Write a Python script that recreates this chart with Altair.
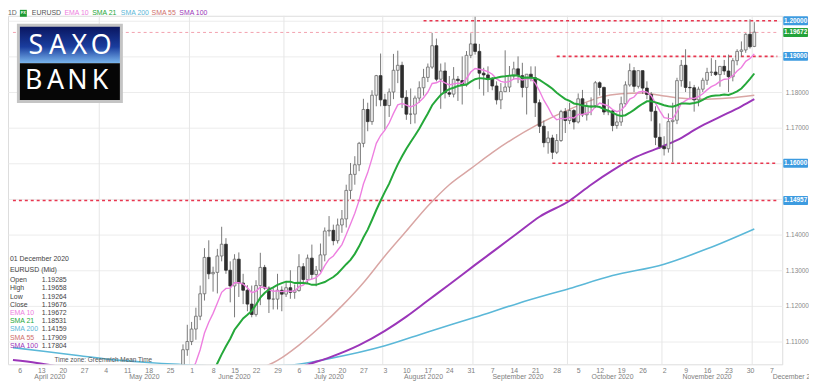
import altair as alt
import pandas as pd

W, H = 782, 352

# ---------------- data ----------------
DATES = [d.strftime("%Y-%m-%d") for d in pd.bdate_range("2020-05-26", "2020-12-01")]

OPEN = [1.0898, 1.0980, 1.1006, 1.1077,
        1.1100, 1.1135, 1.1171, 1.1234, 1.1336,
        1.1290, 1.1294, 1.1340, 1.1373, 1.1300,
        1.1256, 1.1331, 1.1264, 1.1244, 1.1205,
        1.1176, 1.1257, 1.1308, 1.1250, 1.1219,
        1.1219, 1.1244, 1.1233, 1.1251, 1.1238,
        1.1243, 1.1310, 1.1274, 1.1334, 1.1288,
        1.1300, 1.1343, 1.1410, 1.1412, 1.1383,
        1.1427, 1.1444, 1.1524, 1.1569, 1.1596,
        1.1656, 1.1751, 1.1717, 1.1791, 1.1846,
        1.1778, 1.1762, 1.1800, 1.1861, 1.1875,
        1.1785, 1.1738, 1.1738, 1.1783, 1.1812,
        1.1841, 1.1870, 1.1930, 1.1836, 1.1859,
        1.1798, 1.1794, 1.1836, 1.1832, 1.1820,
        1.1903, 1.1935, 1.1914, 1.1853, 1.1848,
        1.1837, 1.1817, 1.1778, 1.1801, 1.1814,
        1.1845, 1.1865, 1.1846, 1.1813, 1.1850,
        1.1840, 1.1770, 1.1704, 1.1658, 1.1671,
        1.1631, 1.1664, 1.1745, 1.1720, 1.1748,
        1.1716, 1.1781, 1.1736, 1.1760, 1.1761,
        1.1826, 1.1813, 1.1744, 1.1747, 1.1706,
        1.1716, 1.1767, 1.1820, 1.1860, 1.1816,
        1.1860, 1.1811, 1.1793, 1.1746, 1.1673,
        1.1647, 1.1641, 1.1717, 1.1721, 1.1832,
        1.1875, 1.1813, 1.1812, 1.1778, 1.1808,
        1.1833, 1.1855, 1.1856, 1.1849, 1.1872,
        1.1859, 1.1843, 1.1888, 1.1914, 1.1918,
        1.1962, 1.1928]
HIGH = [1.0996, 1.1030, 1.1092, 1.1147,
        1.1155, 1.1195, 1.1257, 1.1362, 1.1384,
        1.1310, 1.1360, 1.1422, 1.1390, 1.1325,
        1.1345, 1.1350, 1.1290, 1.1258, 1.1257,
        1.1272, 1.1349, 1.1315, 1.1255, 1.1250,
        1.1290, 1.1255, 1.1270, 1.1300, 1.1260,
        1.1345, 1.1320, 1.1344, 1.1372, 1.1312,
        1.1375, 1.1420, 1.1452, 1.1428, 1.1445,
        1.1469, 1.1540, 1.1601, 1.1620, 1.1660,
        1.1781, 1.1770, 1.1805, 1.1848, 1.1908,
        1.1795, 1.1810, 1.1907, 1.1916, 1.1885,
        1.1805, 1.1810, 1.1790, 1.1830, 1.1865,
        1.1880, 1.1966, 1.1950, 1.1880, 1.1883,
        1.1845, 1.1870, 1.1845, 1.1900, 1.1915,
        1.1965, 1.2011, 1.1935, 1.1868, 1.1872,
        1.1842, 1.1830, 1.1825, 1.1917, 1.1873,
        1.1885, 1.1900, 1.1882, 1.1850, 1.1872,
        1.1872, 1.1779, 1.1720, 1.1690, 1.1680,
        1.1682, 1.1750, 1.1755, 1.1770, 1.1752,
        1.1796, 1.1806, 1.1770, 1.1785, 1.1831,
        1.1830, 1.1815, 1.1780, 1.1750, 1.1740,
        1.1787, 1.1830, 1.1880, 1.1870, 1.1860,
        1.1860, 1.1830, 1.1800, 1.1760, 1.1712,
        1.1676, 1.1740, 1.1770, 1.1840, 1.1890,
        1.1920, 1.1830, 1.1820, 1.1815, 1.1840,
        1.1868, 1.1895, 1.1890, 1.1873, 1.1890,
        1.1905, 1.1895, 1.1920, 1.1942, 1.1965,
        1.2004, 1.1996]
LOW = [1.0893, 1.0940, 1.0985, 1.1060,
       1.1090, 1.1105, 1.1160, 1.1215, 1.1275,
       1.1240, 1.1235, 1.1325, 1.1290, 1.1210,
       1.1168, 1.1225, 1.1205, 1.1185, 1.1168,
       1.1170, 1.1202, 1.1245, 1.1180, 1.1190,
       1.1190, 1.1185, 1.1225, 1.1220, 1.1220,
       1.1240, 1.1260, 1.1262, 1.1275, 1.1255,
       1.1295, 1.1325, 1.1395, 1.1370, 1.1375,
       1.1405, 1.1420, 1.1500, 1.1540, 1.1578,
       1.1645, 1.1690, 1.1708, 1.1760, 1.1760,
       1.1695, 1.1730, 1.1780, 1.1825, 1.1755,
       1.1722, 1.1710, 1.1712, 1.1770, 1.1790,
       1.1828, 1.1865, 1.1830, 1.1753, 1.1782,
       1.1786, 1.1785, 1.1775, 1.1765, 1.1815,
       1.1895, 1.1905, 1.1808, 1.1790, 1.1800,
       1.1805, 1.1765, 1.1752, 1.1800, 1.1800,
       1.1835, 1.1825, 1.1785, 1.1737, 1.1830,
       1.1730, 1.1685, 1.1645, 1.1627, 1.1612,
       1.1626, 1.1660, 1.1685, 1.1710, 1.1695,
       1.1712, 1.1730, 1.1720, 1.1735, 1.1755,
       1.1790, 1.1736, 1.1735, 1.1690, 1.1697,
       1.1705, 1.1760, 1.1815, 1.1800, 1.1810,
       1.1795, 1.1780, 1.1718, 1.1651, 1.1640,
       1.1622, 1.1630, 1.1603, 1.1710, 1.1815,
       1.1800, 1.1780, 1.1745, 1.1760, 1.1800,
       1.1820, 1.1845, 1.1845, 1.1815, 1.1848,
       1.1800, 1.1830, 1.1875, 1.1900, 1.1910,
       1.1922, 1.1926]
CLOSE = [1.0980, 1.1006, 1.1077, 1.1100,
         1.1135, 1.1171, 1.1234, 1.1336, 1.1290,
         1.1294, 1.1340, 1.1373, 1.1300, 1.1256,
         1.1331, 1.1264, 1.1244, 1.1205, 1.1176,
         1.1257, 1.1308, 1.1250, 1.1219, 1.1219,
         1.1244, 1.1233, 1.1251, 1.1238, 1.1243,
         1.1310, 1.1274, 1.1334, 1.1288, 1.1300,
         1.1343, 1.1410, 1.1412, 1.1383, 1.1427,
         1.1444, 1.1524, 1.1569, 1.1596, 1.1656,
         1.1751, 1.1717, 1.1791, 1.1846, 1.1778,
         1.1762, 1.1800, 1.1861, 1.1875, 1.1785,
         1.1738, 1.1738, 1.1783, 1.1812, 1.1841,
         1.1870, 1.1930, 1.1836, 1.1859, 1.1798,
         1.1794, 1.1836, 1.1832, 1.1820, 1.1903,
         1.1935, 1.1914, 1.1853, 1.1848, 1.1837,
         1.1817, 1.1778, 1.1801, 1.1814, 1.1845,
         1.1865, 1.1846, 1.1813, 1.1850, 1.1840,
         1.1770, 1.1704, 1.1658, 1.1671, 1.1631,
         1.1664, 1.1745, 1.1720, 1.1748, 1.1716,
         1.1781, 1.1736, 1.1760, 1.1761, 1.1826,
         1.1813, 1.1744, 1.1747, 1.1706, 1.1716,
         1.1767, 1.1820, 1.1860, 1.1816, 1.1860,
         1.1811, 1.1793, 1.1746, 1.1673, 1.1647,
         1.1641, 1.1717, 1.1721, 1.1832, 1.1875,
         1.1813, 1.1812, 1.1778, 1.1808, 1.1833,
         1.1855, 1.1856, 1.1849, 1.1872, 1.1859,
         1.1843, 1.1888, 1.1914, 1.1918, 1.1962,
         1.1927, 1.1968]
EMA10 = [1.0919, 1.0935, 1.0961, 1.0986,
         1.1013, 1.1042, 1.1077, 1.1124, 1.1154,
         1.1179, 1.1208, 1.1238, 1.1249, 1.1250,
         1.1265, 1.1265, 1.1261, 1.1251, 1.1237,
         1.1241, 1.1253, 1.1252, 1.1246, 1.1241,
         1.1242, 1.1240, 1.1242, 1.1241, 1.1242,
         1.1254, 1.1258, 1.1272, 1.1275, 1.1279,
         1.1291, 1.1313, 1.1331, 1.1340, 1.1356,
         1.1372, 1.1400, 1.1430, 1.1460, 1.1496,
         1.1542, 1.1574, 1.1614, 1.1656, 1.1678,
         1.1693, 1.1713, 1.1740, 1.1764, 1.1768,
         1.1763, 1.1758, 1.1763, 1.1772, 1.1784,
         1.1800, 1.1824, 1.1826, 1.1832, 1.1826,
         1.1820, 1.1823, 1.1825, 1.1824, 1.1838,
         1.1856, 1.1866, 1.1864, 1.1861, 1.1857,
         1.1850, 1.1837, 1.1830, 1.1827, 1.1830,
         1.1837, 1.1838, 1.1834, 1.1837, 1.1837,
         1.1825, 1.1803, 1.1777, 1.1757, 1.1734,
         1.1722, 1.1726, 1.1725, 1.1729, 1.1727,
         1.1737, 1.1737, 1.1741, 1.1744, 1.1759,
         1.1769, 1.1765, 1.1761, 1.1751, 1.1745,
         1.1749, 1.1762, 1.1780, 1.1786, 1.1800,
         1.1802, 1.1800, 1.1790, 1.1769, 1.1747,
         1.1728, 1.1726, 1.1725, 1.1744, 1.1768,
         1.1776, 1.1783, 1.1782, 1.1787, 1.1795,
         1.1806, 1.1815, 1.1821, 1.1830, 1.1836,
         1.1837, 1.1846, 1.1859, 1.1869, 1.1886,
         1.1894, 1.1907]
SMA21 = [1.0880, 1.0889, 1.0899, 1.0906,
         1.0913, 1.0926, 1.0944, 1.0970, 1.0992,
         1.1014, 1.1039, 1.1064, 1.1087, 1.1108,
         1.1133, 1.1149, 1.1165, 1.1175, 1.1186,
         1.1203, 1.1223, 1.1236, 1.1246, 1.1252,
         1.1259, 1.1264, 1.1268, 1.1268, 1.1264,
         1.1265, 1.1264, 1.1263, 1.1259, 1.1259,
         1.1263, 1.1267, 1.1274, 1.1281, 1.1291,
         1.1304, 1.1317, 1.1329, 1.1346, 1.1367,
         1.1392, 1.1414, 1.1441, 1.1469, 1.1495,
         1.1520, 1.1543, 1.1571, 1.1597, 1.1620,
         1.1641, 1.1660, 1.1678, 1.1697, 1.1719,
         1.1740, 1.1763, 1.1778, 1.1792, 1.1801,
         1.1808, 1.1812, 1.1817, 1.1819, 1.1821,
         1.1829, 1.1836, 1.1839, 1.1838, 1.1836,
         1.1838, 1.1840, 1.1843, 1.1844, 1.1846,
         1.1847, 1.1846, 1.1840, 1.1841, 1.1840,
         1.1839, 1.1834, 1.1826, 1.1818, 1.1809,
         1.1798, 1.1789, 1.1780, 1.1775, 1.1768,
         1.1766, 1.1762, 1.1761, 1.1759, 1.1760,
         1.1758, 1.1752, 1.1748, 1.1742, 1.1736,
         1.1733, 1.1735, 1.1742, 1.1750, 1.1759,
         1.1767, 1.1774, 1.1774, 1.1771, 1.1767,
         1.1763, 1.1760, 1.1759, 1.1763, 1.1768,
         1.1768, 1.1767, 1.1769, 1.1772, 1.1778,
         1.1785, 1.1789, 1.1790, 1.1791, 1.1793,
         1.1792, 1.1796, 1.1802, 1.1810, 1.1823,
         1.1837, 1.1852]

SMA55_DATES = ["2020-06-22", "2020-06-29", "2020-07-06", "2020-07-13", "2020-07-20", "2020-07-27",
               "2020-08-03", "2020-08-10", "2020-08-17", "2020-08-24", "2020-08-31", "2020-09-07",
               "2020-09-14", "2020-09-21", "2020-09-28", "2020-10-05", "2020-10-12", "2020-10-19",
               "2020-10-26", "2020-11-02", "2020-11-09", "2020-11-16", "2020-11-23", "2020-12-01"]
SMA55 = [1.1020, 1.1047, 1.1090, 1.1142, 1.1200, 1.1265,
         1.1340, 1.1410, 1.1480, 1.1540, 1.1585, 1.1630,
         1.1670, 1.1705, 1.1735, 1.1762, 1.1785, 1.1795,
         1.1797, 1.1789, 1.1782, 1.1780, 1.1783, 1.1791]

SMA100_DATES = ["2020-04-03", "2020-04-10", "2020-04-17",
                "2020-07-01", "2020-07-08", "2020-07-15", "2020-07-24", "2020-08-03", "2020-08-10",
                "2020-08-17", "2020-08-24", "2020-09-01", "2020-09-08", "2020-09-15", "2020-09-22",
                "2020-10-01", "2020-10-08", "2020-10-15", "2020-10-22", "2020-10-29", "2020-11-05",
                "2020-11-12", "2020-11-19", "2020-11-26", "2020-12-01"]
SMA100 = [1.1048, 1.1040, 1.1030,
          1.1010, 1.1035, 1.1055, 1.1090, 1.1130, 1.1170,
          1.1215, 1.1260, 1.1315, 1.1360, 1.1405, 1.1450,
          1.1495, 1.1540, 1.1580, 1.1615, 1.1640, 1.1665,
          1.1700, 1.1730, 1.1760, 1.1780]
SMA100_SEG = [0, 0, 0] + [1] * 22

SMA200_DATES = ["2020-04-03", "2020-04-14", "2020-04-24", "2020-05-05", "2020-05-15", "2020-05-27",
                "2020-06-08", "2020-06-19", "2020-07-01", "2020-07-15", "2020-08-03", "2020-08-17",
                "2020-09-01", "2020-09-15", "2020-10-01", "2020-10-15", "2020-11-02", "2020-11-16",
                "2020-12-01"]
SMA200 = [1.1083, 1.1072, 1.1060, 1.1050, 1.1042, 1.1036,
          1.1032, 1.1031, 1.1033, 1.1052, 1.1088, 1.1127,
          1.1168, 1.1207, 1.1249, 1.1285, 1.1317, 1.1360,
          1.1416]

LEVELS = [1.20000, 1.19672, 1.19000, 1.16000, 1.14957]
LEVEL_START = ["2020-08-14", "2020-04-03", "2020-09-28", "2020-09-25", "2020-04-03"]
LEVEL_KIND = ["red", "pink", "red", "red", "red"]
LEVEL_TAG = ["1.20000", "1.19672", "1.19000", "1.16000", "1.14957"]
LEVEL_TAG_COLOR = ["#3d9be0", "#23a33a", "#3d9be0", "#3d9be0", "#3d9be0"]

WEEK_TICKS = [d.strftime("%Y-%m-%d") for d in pd.date_range("2020-04-06", "2020-12-07", freq="7D")]
MONTH_FIRST_DAY = ["2020-05-01", "2020-06-01", "2020-07-01", "2020-08-03",
                   "2020-09-01", "2020-10-01", "2020-11-02", "2020-12-01"]
MONTH_LABELS = ["April 2020", "May 2020", "June 2020", "July 2020", "August 2020",
                "September 2020", "October 2020", "November 2020", "December 2020"]
MONTH_MID = ["2020-04-15", "2020-05-15", "2020-06-15", "2020-07-15", "2020-08-14",
             "2020-09-15", "2020-10-15", "2020-11-16", "2020-12-15"]
Y_TICKS = [1.11, 1.12, 1.13, 1.14, 1.15, 1.16, 1.17, 1.18, 1.19, 1.20]

INFO_LABELS = ["Open", "High", "Low", "Close", "EMA 10", "SMA 21", "SMA 200", "SMA 55", "SMA 100"]
INFO_VALUES = ["1.19285", "1.19658", "1.19264", "1.19676", "1.19672", "1.18531", "1.14159", "1.17909", "1.17804"]

C_EMA10, C_SMA21, C_SMA200, C_SMA55, C_SMA100 = "#ee7fe0", "#25a83a", "#5bb8d8", "#d9a6a4", "#9b36b9"
INFO_COLORS = ["#444", "#444", "#444", "#444", C_EMA10, C_SMA21, C_SMA200, "#d0706c", C_SMA100]

DAY_MS = 86400000


def pos(d):
    """Trading-day position: weekdays spread evenly over the week."""
    t = pd.Timestamp(d)
    monday = t - pd.Timedelta(days=t.weekday())
    return int((monday + pd.Timedelta(days=1.4 * t.weekday())).value // 10**6)


X_START = int(pd.Timestamp("2020-04-03 18:40").value // 10**6)
X_END = int(pd.Timestamp("2020-12-08 21:36").value // 10**6)
Y_MIN, Y_MAX = 1.10361, 1.20139

xs = alt.Scale(type="utc", domain=[X_START, X_END])
ys = alt.Scale(domain=[Y_MIN, Y_MAX], zero=False, nice=False)

candles = pd.DataFrame({"t": [pos(d) for d in DATES], "o": OPEN, "h": HIGH, "l": LOW, "c": CLOSE,
                        "ema": EMA10, "sma21": SMA21})
candles["dir"] = ["up" if c >= o else "down" for o, c in zip(OPEN, CLOSE)]

Xn = alt.X("t:T", scale=xs, title=None, axis=None)


def Yn(field):
    return alt.Y(field, scale=ys, title=None, axis=None)


base = alt.Chart(candles)

# price-axis labels that sit under a price tag are left blank (the tag covers them)
covered = " || ".join(f"abs(datum.value - {v}) < 0.006" for v in LEVELS if v != 1.19672)
y_label_expr = f"({covered}) ? '' : format(datum.value, '.5f')"

# axes-owning invisible layer (week ticks at bottom, price axis on the right)
ticks_df = pd.DataFrame({"t": [pos(d) for d in WEEK_TICKS], "v": Y_TICKS * 3 + Y_TICKS[:6]})
axis_layer = alt.Chart(ticks_df).mark_point(opacity=0).encode(
    x=alt.X("t:T", scale=xs, title=None,
            axis=alt.Axis(orient="bottom", values=[pos(d) for d in WEEK_TICKS],
                          labelExpr="utcFormat(datum.value, '%-d')",
                          grid=False, ticks=False, domain=False, labelFontSize=7, labelColor="#808080",
                          labelPadding=2, labelFont="Liberation Sans", labelFlush=False,
                          labelOverlap=False, labelBound=False)),
    y=alt.Y("v:Q", scale=ys, title=None,
            axis=alt.Axis(orient="right", values=Y_TICKS, labelExpr=y_label_expr,
                          ticks=False, domain=False, grid=True, gridColor="#ececec", labelFontSize=6.5,
                          labelColor="#8a8a8a", labelPadding=3, labelFont="Liberation Sans",
                          labelOverlap=False, labelFlush=False, labelBound=False)))

# month grid lines
mgrid = pd.DataFrame({"t": [pos(d) - 0.7 * DAY_MS for d in MONTH_FIRST_DAY]})
month_rules = alt.Chart(mgrid).mark_rule(color="#e6e6e6", strokeWidth=1).encode(
    x=Xn, y=alt.value(0), y2=alt.value(H))

# level lines
lv = pd.DataFrame({"t": [pos(d) if d != "2020-04-03" else X_START for d in LEVEL_START],
                   "t2": X_END, "v": LEVELS, "kind": LEVEL_KIND, "tag": LEVEL_TAG, "tc": LEVEL_TAG_COLOR})
red_lines = alt.Chart(lv[lv.kind == "red"]).mark_rule(color="#e8364f", strokeWidth=1.6, strokeDash=[3, 3]).encode(
    x=Xn, x2="t2:T", y=Yn("v:Q"))
pink_lines = alt.Chart(lv[lv.kind == "pink"]).mark_rule(color="#f2a0ad", strokeWidth=1, strokeDash=[3, 3]).encode(
    x=Xn, x2="t2:T", y=Yn("v:Q"))

# candles
wicks = base.mark_rule(color="#6a6a6a", strokeWidth=0.9, clip=True).encode(
    x=Xn, y=Yn("l:Q"), y2="h:Q")
bodies = base.mark_bar(size=2.8, strokeWidth=0.8, clip=True).encode(
    x=Xn, y=Yn("o:Q"), y2="c:Q",
    fill=alt.Fill("dir:N", scale=alt.Scale(domain=["up", "down"], range=["#ededed", "#2e2e2e"]), legend=None),
    stroke=alt.Stroke("dir:N", scale=alt.Scale(domain=["up", "down"], range=["#6a6a6a", "#2e2e2e"]), legend=None))

# moving averages
ema_line = base.mark_line(color=C_EMA10, strokeWidth=1.4, clip=True).encode(x=Xn, y=Yn("ema:Q"))
sma21_line = base.mark_line(color=C_SMA21, strokeWidth=2, clip=True).encode(x=Xn, y=Yn("sma21:Q"))
s55 = pd.DataFrame({"t": [pos(d) for d in SMA55_DATES], "v": SMA55})
sma55_line = alt.Chart(s55).mark_line(color=C_SMA55, strokeWidth=1.5, clip=True, interpolate="monotone").encode(
    x=Xn, y=Yn("v:Q"))
s100 = pd.DataFrame({"t": [pos(d) if d != "2020-04-03" else X_START for d in SMA100_DATES], "v": SMA100,
                     "seg": SMA100_SEG})
sma100_line = alt.Chart(s100).mark_line(color=C_SMA100, strokeWidth=2, clip=True, interpolate="monotone").encode(
    x=Xn, y=Yn("v:Q"), detail="seg:N")
s200 = pd.DataFrame({"t": [pos(d) if d != "2020-04-03" else X_START for d in SMA200_DATES], "v": SMA200})
sma200_line = alt.Chart(s200).mark_line(color=C_SMA200, strokeWidth=1.6, clip=True, interpolate="monotone").encode(
    x=Xn, y=Yn("v:Q"))

# month labels under the day labels
ml = pd.DataFrame({"t": [pos(d) for d in MONTH_MID], "label": MONTH_LABELS})
month_text = alt.Chart(ml).mark_text(fontSize=7, color="#808080", font="Liberation Sans", baseline="middle").encode(
    x=Xn, y=alt.value(H + 13), text="label:N")

# price tags on the right
tag_boxes = alt.Chart(lv).mark_rect(yOffset=-4.5, y2Offset=4.5, cornerRadius=1).encode(
    x=alt.value(W + 1), x2=alt.value(W + 26), y=Yn("v:Q"), y2="v:Q",
    color=alt.Color("tc:N", scale=None))
tag_text = alt.Chart(lv).mark_text(fontSize=6.5, color="white", fontWeight="bold", font="Liberation Sans",
                                   baseline="middle").encode(
    x=alt.value(W + 13.5), y=Yn("v:Q"), text="tag:N")

# ---------------- annotations (logo, header, info panel) ----------------
dummy = pd.DataFrame({"a": [0]})


def txt(x, y, s, size=7.0, color="#444", align="left", weight="normal", font="Liberation Sans"):
    return alt.Chart(dummy).mark_text(align=align, baseline="middle", fontSize=size, color=color,
                                      fontWeight=weight, font=font).encode(
        x=alt.value(x), y=alt.value(y), text=alt.value(s))


def box(x1, x2, y1, y2, fill):
    return alt.Chart(dummy).mark_rect(fill=fill).encode(
        x=alt.value(x1), x2=alt.value(x2), y=alt.value(y1), y2=alt.value(y2))


grad = {"gradient": "linear", "x1": 0, "y1": 0, "x2": 0, "y2": 1,
        "stops": [{"offset": 0, "color": "#0a1660"}, {"offset": 0.55, "color": "#1a3d9e"},
                  {"offset": 1, "color": "#7bb7ee"}]}

ann = [box(9, 116, 8, 88, "#c4c4c4"), box(12, 113, 11, 48, grad), box(12, 113, 48, 85, "#060606")]
for ch, cx in zip("SAXO", [28, 50, 72, 94]):
    ann.append(txt(cx, 31, ch, size=27, color="white", align="center", font="Noto Sans"))
for ch, cx in zip("BANK", [26, 48, 70, 93]):
    ann.append(txt(cx, 66, ch, size=27, color="white", align="center", font="Noto Sans"))

# header
ann.append(txt(0, -2.5, "1D", size=7, color="#666"))
ann.append(box(12, 19, -6, 1, "#1e9a32"))
ann.append(txt(15.5, -2.5, "FX", size=4, color="white", align="center", weight="bold"))
for s, x, c in [("EURUSD", 24, "#555"), ("EMA 10", 57, C_EMA10), ("SMA 21", 85, C_SMA21),
                ("SMA 200", 114, C_SMA200), ("SMA 55", 145, "#d0706c"), ("SMA 100", 173, C_SMA100)]:
    ann.append(txt(x, -2.5, s, size=7, color=c))

# info panel
ann.append(txt(2, 246, "01 December 2020", size=7, color="#444"))
ann.append(txt(2, 257, "EURUSD (Mid)", size=7, color="#444"))
for i, (lab, val, col) in enumerate(zip(INFO_LABELS, INFO_VALUES, INFO_COLORS)):
    yy = 267 + i * 8.3
    ann.append(txt(2, yy, lab, size=7, color=col))
    ann.append(txt(34, yy, val, size=7, color="#444"))
ann.append(txt(47, 348, "Time zone: Greenwich Mean Time", size=6.5, color="#555"))

chart = alt.layer(
    axis_layer, month_rules,
    sma200_line, sma55_line, sma100_line,
    pink_lines, red_lines,
    wicks, bodies,
    ema_line, sma21_line,
    month_text, tag_boxes, tag_text,
    *ann
).resolve_axis(x="independent", y="independent").properties(
    width=W, height=H,
    padding={"left": 0, "top": 6, "right": 27, "bottom": 16},
    autosize=alt.AutoSizeParams(type="none"),
).configure_view(strokeWidth=0).configure(background="white")

chart.save("out.html", embed_options={"renderer": "svg", "actions": False})
